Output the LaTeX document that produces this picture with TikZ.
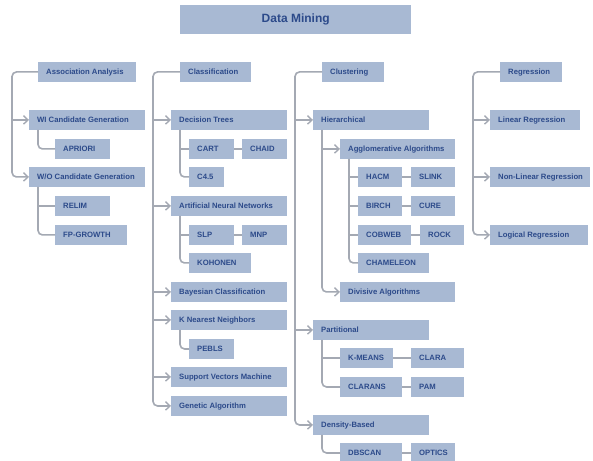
\documentclass[tikz,border=0pt]{standalone}
\usepackage{fontspec}
\setmainfont{Liberation Sans}
\usetikzlibrary{arrows.meta}
\definecolor{boxfill}{HTML}{A8B9D3}
\definecolor{txt}{HTML}{2C4A8A}
\definecolor{linec}{HTML}{A4A9B3}
\tikzset{
  box/.style={fill=boxfill, text=txt, inner xsep=8bp, inner ysep=0pt,
    minimum height=19.5bp, text height=5.6bp, text depth=0bp, anchor=north west,
    font=\fontsize{7.7bp}{9bp}\selectfont\bfseries},
  titlebox/.style={fill=boxfill, text=txt, inner sep=0pt, minimum width=231bp,
    minimum height=29bp, anchor=north west, font=\fontsize{12bp}{14bp}\selectfont\bfseries},
  conn/.style={draw=linec, line width=1.6bp, rounded corners=4.5bp},
  arr/.style={conn, -{Straight Barb[length=4.5bp,width=8.5bp,line width=1.4bp]}},
}
\newcommand\bx[5]{\pgfmathsetmacro\bxw{#4-16}\node[box] (#1) at (#2,#3) {\makebox[\bxw bp][l]{#5}};}
\begin{document}
\begin{tikzpicture}[x=1bp,y=-1bp]
\fill[white] (0,0) rectangle (593,461);
\useasboundingbox (0,0) rectangle (593,461);
\node[titlebox] (dm) at (180,5) {Data Mining};
% column 1
\bx{aa}{38}{62}{98}{Association Analysis}
\bx{wi}{29}{110}{116}{WI Candidate Generation}
\bx{apriori}{55}{139}{55}{APRIORI}
\bx{wo}{29}{167}{116}{W/O Candidate Generation}
\bx{relim}{55}{196}{55}{RELIM}
\bx{fp}{55}{225}{72}{FP-GROWTH}
% column 2
\bx{cls}{180}{62}{71}{Classification}
\bx{dt}{171}{110}{116}{Decision Trees}
\bx{cart}{189}{139}{45}{CART}
\bx{chaid}{242}{139}{45}{CHAID}
\bx{c45}{189}{167}{35}{C4.5}
\bx{ann}{171}{196}{116}{Artificial Neural Networks}
\bx{slp}{189}{225}{45}{SLP}
\bx{mnp}{242}{225}{45}{MNP}
\bx{koh}{189}{253}{62}{KOHONEN}
\bx{bayes}{171}{282}{116}{Bayesian Classification}
\bx{knn}{171}{310}{116}{K Nearest Neighbors}
\bx{pebls}{189}{339}{45}{PEBLS}
\bx{svm}{171}{367}{116}{Support Vectors Machine}
\bx{ga}{171}{396}{116}{Genetic Algorithm}
% column 3
\bx{clu}{322}{62}{62}{Clustering}
\bx{hier}{313}{110}{116}{Hierarchical}
\bx{agg}{340}{139}{115}{Agglomerative Algorithms}
\bx{hacm}{358}{167}{44}{HACM}
\bx{slink}{411}{167}{44}{SLINK}
\bx{birch}{358}{196}{44}{BIRCH}
\bx{cure}{411}{196}{44}{CURE}
\bx{cobweb}{358}{225}{53}{COBWEB}
\bx{rock}{420}{225}{44}{ROCK}
\bx{cham}{358}{253}{71}{CHAMELEON}
\bx{div}{340}{282}{115}{Divisive Algorithms}
\bx{part}{313}{320}{116}{Partitional}
\bx{kmeans}{340}{348}{53}{K-MEANS}
\bx{clara}{411}{348}{53}{CLARA}
\bx{clarans}{340}{377}{62}{CLARANS}
\bx{pam}{411}{377}{53}{PAM}
\bx{dens}{313}{415}{116}{Density-Based}
\bx{dbscan}{340}{443}{62}{DBSCAN}
\bx{optics}{411}{443}{44}{OPTICS}
% column 4
\bx{reg}{500}{62}{62}{Regression}
\bx{lin}{490}{110}{90}{Linear Regression}
\bx{nonlin}{490}{167}{100}{Non-Linear Regression}
\bx{logi}{490}{225}{98}{Logical Regression}
% connectors column 1
\coordinate (v1) at (12,0);
\draw[arr] (aa.west) -| (v1 |- wo.west) -- (wo.west);
\draw[arr] (v1 |- wi.west) -- (wi.west);
\draw[conn] ([xshift=9bp]wi.south west) |- (apriori.west);
\draw[conn] ([xshift=9bp]wo.south west) coordinate (wox) |- (fp.west);
\draw[conn] (wox |- relim.west) -- (relim.west);
% column 2
\coordinate (v2) at (153,0);
\draw[arr] (cls.west) -| (v2 |- ga.west) -- (ga.west);
\foreach \n in {dt,ann,bayes,knn,svm} \draw[arr] (v2 |- \n.west) -- (\n.west);
\draw[conn] ([xshift=9bp]dt.south west) coordinate (dtx) |- (c45.west);
\draw[conn] (dtx |- cart.west) -- (cart.west);
\draw[conn] (cart) -- (chaid);
\draw[conn] ([xshift=9bp]ann.south west) coordinate (annx) |- (koh.west);
\draw[conn] (annx |- slp.west) -- (slp.west);
\draw[conn] (slp) -- (mnp);
\draw[conn] ([xshift=9bp]knn.south west) |- (pebls.west);
% column 3
\coordinate (v3) at (295,0);
\draw[arr] (clu.west) -| (v3 |- dens.west) -- (dens.west);
\foreach \n in {hier,part} \draw[arr] (v3 |- \n.west) -- (\n.west);
\draw[arr] ([xshift=9bp]hier.south west) coordinate (hx) |- (div.west);
\draw[arr] (hx |- agg.west) -- (agg.west);
\draw[conn] ([xshift=9bp]agg.south west) coordinate (ax) |- (cham.west);
\foreach \n in {hacm,birch,cobweb} \draw[conn] (ax |- \n.west) -- (\n.west);
\draw[conn] (hacm) -- (slink);
\draw[conn] (birch) -- (cure);
\draw[conn] (cobweb) -- (rock);
\draw[conn] ([xshift=9bp]part.south west) coordinate (px) |- (clarans.west);
\draw[conn] (px |- kmeans.west) -- (kmeans.west);
\draw[conn] (kmeans) -- (clara);
\draw[conn] (clarans) -- (pam);
\draw[conn] ([xshift=9bp]dens.south west) |- (dbscan.west);
\draw[conn] (dbscan) -- (optics);
% column 4
\coordinate (v4) at (473,0);
\draw[arr] (reg.west) -| (v4 |- logi.west) -- (logi.west);
\foreach \n in {lin,nonlin} \draw[arr] (v4 |- \n.west) -- (\n.west);
\end{tikzpicture}
\end{document}
